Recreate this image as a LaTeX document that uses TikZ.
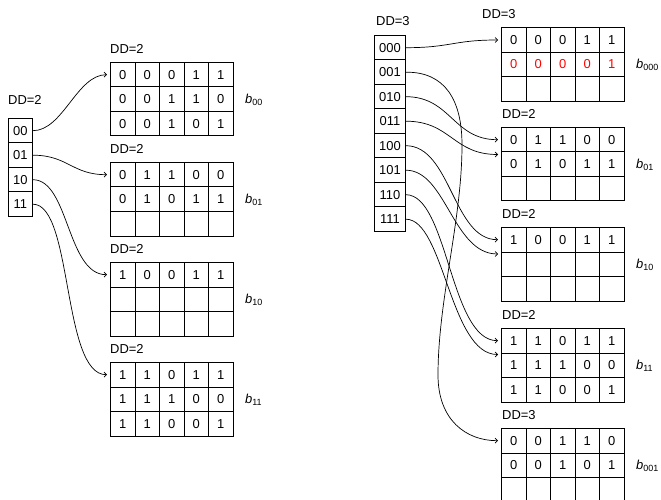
\documentclass[tikz,border=0pt]{standalone}
\usepackage{fontspec}
\setmainfont{Liberation Sans}
\usetikzlibrary{arrows.meta}
\newcommand\redc{\color{red}}
\newcommand\bkrow[9]{%
  \node[cell] (#1-#2-1) at (#3,#4) {#5};
  \node[cell] (#1-#2-2) at (#3+24.5,#4) {#6};
  \node[cell] (#1-#2-3) at (#3+49,#4) {#7};
  \node[cell] (#1-#2-4) at (#3+73.5,#4) {#8};
  \node[cell] (#1-#2-5) at (#3+98,#4) {#9};
}
\newcommand\blab[1]{{\itshape b}\raisebox{-2.5pt}{\fontsize{9}{10}\selectfont #1}}
\begin{document}
\begin{tikzpicture}[x=1bp,y=-1bp,
  txt/.style={font=\fontsize{13}{15}\selectfont},
  cell/.style={draw, line width=0.9pt, minimum width=24.5bp, minimum height=24.5bp,
    inner sep=0pt, anchor=north west, txt},
  dirL/.style={cell, minimum width=24bp},
  dirR/.style={cell, minimum width=31bp},
  lab/.style={anchor=west, inner sep=0pt, txt},
  conn/.style={draw, line width=0.7pt, -{Straight Barb[length=2.5pt,width=5pt]}}]
\useasboundingbox (0,0) rectangle (661,500);

% ---------- left: directory ----------
\node[lab] (LDD) at (8,100) {DD=2};
\node[dirL] (L00) at (8,118) {00};
\node[dirL] (L01) at (8,142.5) {01};
\node[dirL] (L10) at (8,167) {10};
\node[dirL] (L11) at (8,191.5) {11};

% ---------- left: buckets ----------
\node[lab] (LD00) at (110,49) {DD=2};
\bkrow{BL00}{1}{110}{62}{0}{0}{0}{1}{1}
\bkrow{BL00}{2}{110}{86.5}{0}{0}{1}{1}{0}
\bkrow{BL00}{3}{110}{111}{0}{0}{1}{0}{1}
\node[lab] (Lb00) at (245,100) {\blab{00}};

\node[lab] (LD01) at (110,149) {DD=2};
\bkrow{BL01}{1}{110}{162}{0}{1}{1}{0}{0}
\bkrow{BL01}{2}{110}{186.5}{0}{1}{0}{1}{1}
\bkrow{BL01}{3}{110}{211}{}{}{}{}{}
\node[lab] (Lb01) at (245,200) {\blab{01}};

\node[lab] (LD10) at (110,249) {DD=2};
\bkrow{BL10}{1}{110}{262}{1}{0}{0}{1}{1}
\bkrow{BL10}{2}{110}{286.5}{}{}{}{}{}
\bkrow{BL10}{3}{110}{311}{}{}{}{}{}
\node[lab] (Lb10) at (245,300) {\blab{10}};

\node[lab] (LD11) at (110,349) {DD=2};
\bkrow{BL11}{1}{110}{362}{1}{1}{0}{1}{1}
\bkrow{BL11}{2}{110}{386.5}{1}{1}{1}{0}{0}
\bkrow{BL11}{3}{110}{411}{1}{1}{0}{0}{1}
\node[lab] (Lb11) at (245,400) {\blab{11}};

% ---------- left: connectors ----------
\draw[conn] (L00.east) .. controls +(30,0) and +(-30,0) .. ([xshift=-3pt]BL00-1-1.west);
\draw[conn] (L01.east) .. controls +(35,0) and +(-35,0) .. ([xshift=-3pt]BL01-1-1.west);
\draw[conn] (L10.east) .. controls +(36,0) and +(-40,0) .. ([xshift=-3pt]BL10-1-1.west);
\draw[conn] (L11.east) .. controls +(40,0) and +(-45,0) .. ([xshift=-3pt]BL11-1-1.west);

% ---------- right: directory ----------
\node[lab] (RDD) at (376,21) {DD=3};
\node[dirR] (R000) at (374,35) {000};
\node[dirR] (R001) at (374,59.5) {001};
\node[dirR] (R010) at (374,84) {010};
\node[dirR] (R011) at (374,108.5) {011};
\node[dirR] (R100) at (374,133) {100};
\node[dirR] (R101) at (374,157.5) {101};
\node[dirR] (R110) at (374,182) {110};
\node[dirR] (R111) at (374,206.5) {111};

% ---------- right: buckets ----------
\node[lab] (RD000) at (482,14) {DD=3};
\bkrow{BR000}{1}{501}{27.3}{0}{0}{0}{1}{1}
\bkrow{BR000}{2}{501}{51.8}{\redc 0}{\redc 0}{\redc 0}{\redc 0}{\redc 1}
\bkrow{BR000}{3}{501}{76.3}{}{}{}{}{}
\node[lab] (Rb000) at (636,65) {\blab{000}};

\node[lab] (RD01) at (502,114) {DD=2};
\bkrow{BR01}{1}{501}{127}{0}{1}{1}{0}{0}
\bkrow{BR01}{2}{501}{151.5}{0}{1}{0}{1}{1}
\bkrow{BR01}{3}{501}{176}{}{}{}{}{}
\node[lab] (Rb01) at (636,165) {\blab{01}};

\node[lab] (RD10) at (502,214) {DD=2};
\bkrow{BR10}{1}{501}{227}{1}{0}{0}{1}{1}
\bkrow{BR10}{2}{501}{251.5}{}{}{}{}{}
\bkrow{BR10}{3}{501}{276}{}{}{}{}{}
\node[lab] (Rb10) at (636,265) {\blab{10}};

\node[lab] (RD11) at (502,315) {DD=2};
\bkrow{BR11}{1}{501}{328}{1}{1}{0}{1}{1}
\bkrow{BR11}{2}{501}{352.5}{1}{1}{1}{0}{0}
\bkrow{BR11}{3}{501}{377}{1}{1}{0}{0}{1}
\node[lab] (Rb11) at (636,366) {\blab{11}};

\node[lab] (RD001) at (502,415) {DD=3};
\bkrow{BR001}{1}{501}{428}{0}{0}{1}{1}{0}
\bkrow{BR001}{2}{501}{452.5}{0}{0}{1}{0}{1}
\bkrow{BR001}{3}{501}{477}{}{}{}{}{}
\node[lab] (Rb001) at (636,466) {\blab{001}};

% ---------- right: connectors ----------
\draw[conn] (R000.east) .. controls +(45,0) and +(-45,0) .. ([xshift=-3pt]BR000-1-1.west);
\draw[conn] (R001.east) .. controls (445,71.75) and (462,100) .. (462,145)
  .. controls (462,220) and (438,300) .. (438,375)
  .. controls (438,420) and +(-32,0) .. ([xshift=-3pt]BR001-1-1.west);
\draw[conn] (R010.east) .. controls +(45,0) and +(-45,0) .. ([xshift=-3pt]BR01-1-1.west);
\draw[conn] (R011.east) .. controls +(45,0) and +(-45,0) .. ([shift={(-3pt,-3pt)}]BR01-2-1.north west);
\draw[conn] (R100.east) .. controls +(45,0) and +(-45,0) .. ([xshift=-3pt]BR10-1-1.west);
\draw[conn] (R101.east) .. controls +(40,0) and +(-45,0) .. ([shift={(-3pt,-2.5pt)}]BR10-2-1.north west);
\draw[conn] (R110.east) .. controls +(42,0) and +(-48,0) .. ([xshift=-3pt]BR11-1-1.west);
\draw[conn] (R111.east) .. controls +(38,0) and +(-48,0) .. ([shift={(-3pt,-2pt)}]BR11-2-1.north west);
\end{tikzpicture}
\end{document}
